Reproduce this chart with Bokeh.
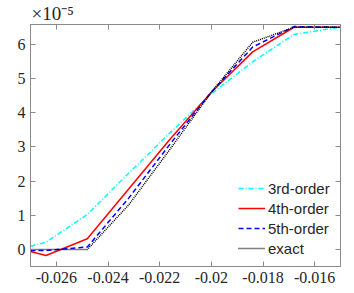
from bokeh.plotting import figure
from bokeh.models import Range1d, LinearAxis, FixedTicker, Legend, LegendItem, Title
from bokeh.embed import file_html
from bokeh.resources import INLINE

# x positions of samples
x_vals = [-0.027, -0.0264, -0.0248, -0.0232, -0.0216, -0.0200, -0.0184, -0.0168, -0.0152, -0.015]
# y values in units of 1e-5
y_3rd = [0.09, 0.21, 1.02, 2.23, 3.41, 4.55, 5.49, 6.29, 6.48, 6.50]
y_4th = [-0.06, -0.18, 0.31, 1.77, 3.22, 4.60, 5.78, 6.50, 6.50, 6.50]
y_5th = [-0.03, -0.03, 0.07, 1.50, 3.08, 4.60, 5.92, 6.52, 6.50, 6.50]
y_exact = [0.0, 0.0, 0.0, 1.30, 2.93, 4.60, 6.06, 6.50, 6.50, 6.50]

x_ticks = [-0.026, -0.024, -0.022, -0.020, -0.018, -0.016]
x_tick_labels = ["-0.026", "-0.024", "-0.022", "-0.02", "-0.018", "-0.016"]
y_ticks = [0, 1, 2, 3, 4, 5, 6]
series_names = ["3rd-order", "4th-order", "5th-order", "exact"]
multiplier = "×10⁻⁵"

AX = "#8a8a8a"
LBL = "#262626"
SERIF = "Liberation Serif"

p = figure(width=346, height=293, output_backend="svg", toolbar_location=None,
           x_range=Range1d(-0.027, -0.015), y_range=Range1d(-0.5, 6.58),
           min_border_left=30, min_border_right=6, min_border_top=23, min_border_bottom=27,
           x_axis_location=None, y_axis_location=None)
p.grid.visible = False
p.outline_line_color = AX
p.background_fill_color = "white"
p.border_fill_color = "white"

def style_axis(ax, ticks, show_labels):
    ax.axis_line_color = AX
    ax.major_tick_line_color = AX
    ax.minor_tick_line_color = None
    ax.major_tick_in = 5
    ax.major_tick_out = 0
    if show_labels:
        ax.major_label_text_font = SERIF
        ax.major_label_text_font_size = "16px"
        ax.major_label_text_color = LBL
        ax.major_label_standoff = 5
    else:
        ax.major_label_overrides = {t: "" for t in ticks}
        ax.major_label_standoff = 0

xb = LinearAxis(ticker=FixedTicker(ticks=x_ticks),
                major_label_overrides={t: s for t, s in zip(x_ticks, x_tick_labels)})
style_axis(xb, x_ticks, True)
p.add_layout(xb, "below")
xt = LinearAxis(ticker=FixedTicker(ticks=x_ticks))
style_axis(xt, x_ticks, False)
p.add_layout(xt, "above")
yl = LinearAxis(ticker=FixedTicker(ticks=y_ticks))
style_axis(yl, y_ticks, True)
p.add_layout(yl, "left")
yr = LinearAxis(ticker=FixedTicker(ticks=y_ticks))
style_axis(yr, y_ticks, False)
p.add_layout(yr, "right")

r1 = p.line(x_vals, y_3rd, line_color="cyan", line_width=1.5, line_dash="5 2 1 2")
r2 = p.line(x_vals, y_4th, line_color="red", line_width=1.5)
r3 = p.line(x_vals, y_5th, line_color="blue", line_width=1.5, line_dash="5 3")
r4 = p.line(x_vals, y_exact, line_color="black", line_width=1.5, line_dash="1 1")

legend = Legend(items=[LegendItem(label=n, renderers=[r]) for n, r in zip(series_names, [r1, r2, r3, r4])],
                location=(208, 8), border_line_color=None, background_fill_alpha=0,
                padding=0, margin=0, spacing=0, glyph_width=27, glyph_height=20,
                label_height=20, label_standoff=3, label_text_font="Liberation Sans",
                label_text_font_size="15px", label_text_color=LBL)
p.add_layout(legend, "center")

p.add_layout(Title(text=multiplier, text_font=SERIF, text_font_size="19px",
                   text_font_style="normal", text_color=LBL, align="left",
                   offset=1, standoff=1), "above")

open("out.html", "w").write(file_html(p, INLINE))
